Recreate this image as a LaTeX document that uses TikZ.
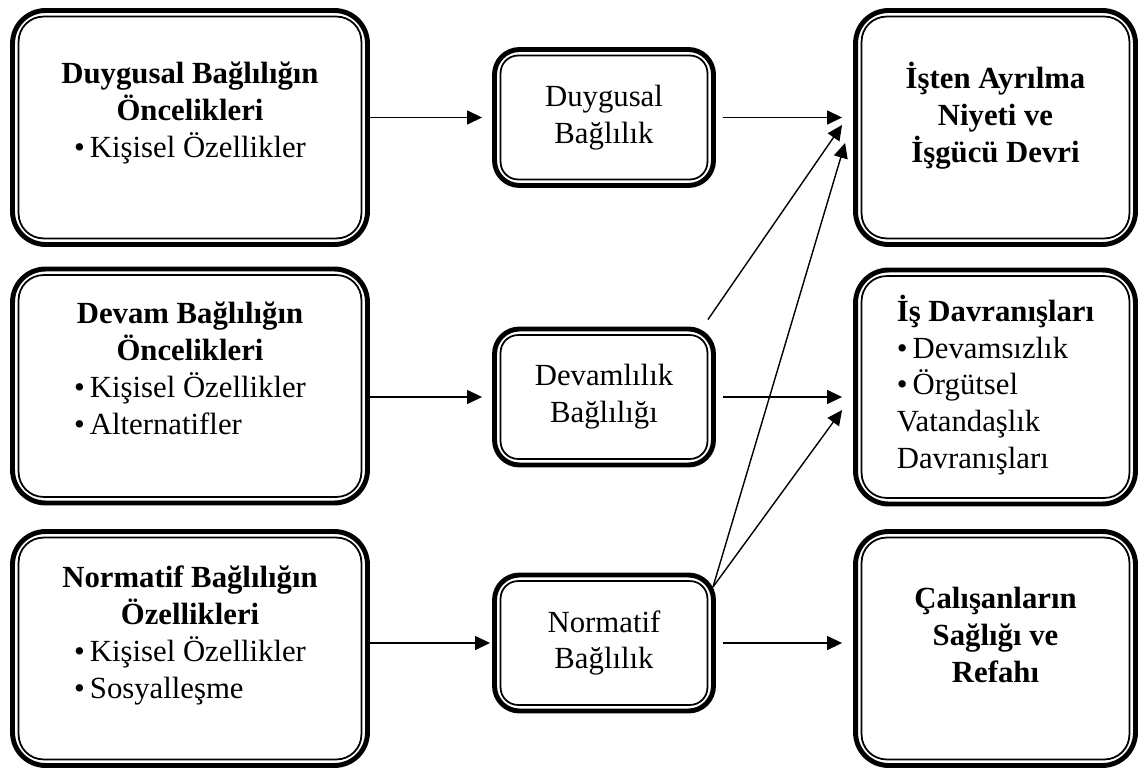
\documentclass[tikz,border=0pt]{standalone}
\usepackage{fontspec}
\setmainfont{Liberation Serif}
\usetikzlibrary{arrows.meta}

\newcommand{\madde}{•\,}

\begin{document}
\begin{tikzpicture}[x=0.02cm,y=-0.02cm,>={Triangle[length=0.3cm,width=0.28cm]},
    yazi/.style={font=\fontsize{17.5}{21}\selectfont,align=center},
    kutu/.style={draw,line width=2.8pt,rounded corners=0.66cm,minimum width=7.1cm,minimum height=4.68cm},
    orta/.style={kutu,yazi,rounded corners=0.5cm,minimum width=4.38cm,minimum height=2.72cm},
    ok/.style={->,line width=0.8pt}]
  \useasboundingbox (0,0) rectangle (1145,770);

  \node[kutu] (d1) at (190,127.5) {};
  \node[kutu] (d2) at (190,386) {};
  \node[kutu] (d3) at (190,648.5) {};
  \node[orta] (a1) at (604,117.5) {Duygusal\\Bağlılık};
  \node[orta] (a2) at (604,397) {Devamlılık\\Bağlılığı};
  \node[orta] (a3) at (604,643) {Normatif\\Bağlılık};
  \node[kutu,minimum width=5.6cm] (s1) at (995.5,127.5) {};
  \node[kutu,minimum width=5.6cm] (s2) at (995.5,387) {};
  \node[kutu,minimum width=5.6cm] (s3) at (995.5,648.5) {};

  \foreach \k/\r in {d1/0.5,d2/0.5,d3/0.5,s1/0.5,s2/0.5,s3/0.5,a1/0.35,a2/0.35,a3/0.35}
    \draw[line width=1pt,rounded corners=\r cm] ([shift={(0.17cm,0.17cm)}]\k.south west) rectangle ([shift={(-0.17cm,-0.17cm)}]\k.north east);

  \node[yazi] (d1y) at (190,113) {\textbf{Duygusal Bağlılığın}\\\textbf{Öncelikleri}\\\madde Kişisel Özellikler};
  \node[yazi] (d2y) at (190,374) {\textbf{Devam Bağlılığın}\\\textbf{Öncelikleri}\\
    \begin{tabular}[t]{@{}l@{}}\madde Kişisel Özellikler\\\madde Alternatifler\end{tabular}};
  \node[yazi] (d3y) at (190,638) {\textbf{Normatif Bağlılığın}\\\textbf{Özellikleri}\\
    \begin{tabular}[t]{@{}l@{}}\madde Kişisel Özellikler\\\madde Sosyalleşme\end{tabular}};
  \node[yazi] (s1y) at (995.5,116) {\textbf{İşten Ayrılma}\\\textbf{Niyeti ve}\\\textbf{İşgücü Devri}};
  \node[yazi,align=left] (s2y) at (995.5,385) {\textbf{İş Davranışları}\\\madde Devamsızlık\\\madde Örgütsel\\Vatandaşlık\\Davranışları};
  \node[yazi] (s3y) at (995.5,635) {\textbf{Çalışanların}\\\textbf{Sağlığı ve}\\\textbf{Refahı}};

  \draw[ok,shorten >=0.2cm] (d1.east |- a1.west) -- (a1.west);
  \draw[ok,shorten >=0.2cm] (d2.east |- a2.west) -- (a2.west);
  \draw[ok,shorten >=0.04cm] (d3.east |- a3.west) -- (a3.west);
  \draw[ok,shorten <=0.15cm,shorten >=0.22cm] (a1.east) -- (a1.east -| s1.west);
  \draw[ok,shorten <=0.15cm,shorten >=0.22cm] (a2.east) -- (a2.east -| s2.west);
  \draw[ok,shorten <=0.15cm,shorten >=0.22cm] (a3.east) -- (a3.east -| s3.west);
  \draw[ok] ([xshift=-0.16cm,yshift=0.14cm]a2.north east) -- ([xshift=-0.22cm,yshift=0.05cm]s1.west);
  \draw[ok] ([xshift=-0.06cm,yshift=-0.29cm]a3.north east) -- ([xshift=-0.16cm,yshift=-0.31cm]s1.west);
  \draw[ok] ([xshift=-0.06cm,yshift=-0.29cm]a3.north east) -- ([xshift=-0.22cm,yshift=-0.46cm]s2.west);
\end{tikzpicture}
\end{document}
